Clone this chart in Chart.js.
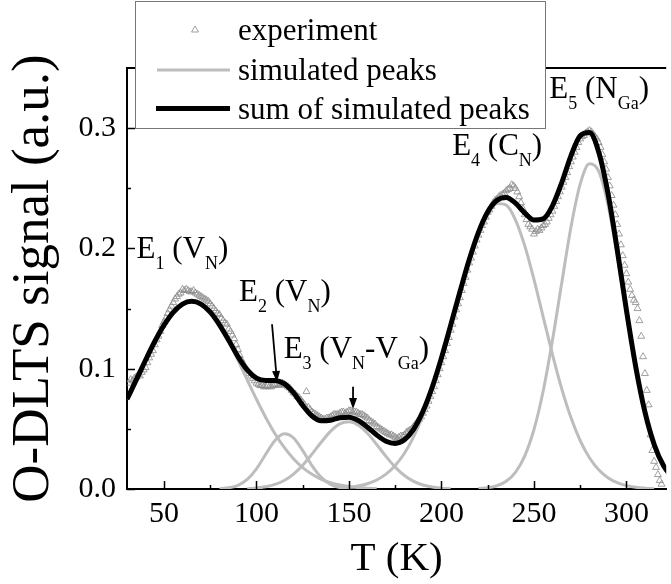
<!DOCTYPE html>
<html>
<head>
<meta charset="utf-8">
<title>O-DLTS spectrum</title>
<script src="https://cdn.jsdelivr.net/npm/chart.js@4.4.1/dist/chart.umd.min.js"></script>
<style>
  html, body { margin: 0; padding: 0; background: #fff; overflow: hidden; }
  #wrap { width: 671px; height: 584px; }
</style>
</head>
<body>
<div id="wrap"><canvas id="dlts" width="671" height="584"></canvas></div>
<script>
// temperature grid for the fitted curves (K)
var gridT = [30,35,40,45,50,55,60,65,70,75,80,85,90,95,100,105,110,115,120,125,130,135,140,145,150,155,160,165,170,175,
             180,185,190,195,200,205,210,215,220,225,230,235,240,245,250,255,260,265,270,275,280,285,290,295,300,305,310,315,320,325];

// simulated peaks on gridT, null where a peak has died out
var peakE1 = [0.0746,0.0907,0.1070,0.1226,0.1362,0.1469,0.1537,0.1560,0.1537,0.1469,0.1362,0.1226,0.1070,0.0907,0.0746,0.0595,0.0460,0.0346,0.0252,0.0178,
              0.0122,0.0081,0.0053,0.0033,0.0020,0.0012,0.0007,0.0004,null,null,null,null,null,null,null,null,null,null,null,null,
              null,null,null,null,null,null,null,null,null,null,null,null,null,null,null,null,null,null,null,null];
var peakE2 = [null,null,null,null,null,null,null,null,null,null,0.0003,0.0010,0.0031,0.0080,0.0168,0.0289,0.0404,0.0459,0.0425,0.0319,
              0.0195,0.0097,0.0039,0.0013,0.0003,null,null,null,null,null,null,null,null,null,null,null,null,null,null,null,
              null,null,null,null,null,null,null,null,null,null,null,null,null,null,null,null,null,null,null,null];
var peakE3 = [null,null,null,null,null,null,null,null,null,null,null,null,null,0.0003,0.0008,0.0018,0.0038,0.0071,0.0124,0.0198,
              0.0290,0.0389,0.0479,0.0541,0.0560,0.0531,0.0463,0.0370,0.0271,0.0182,0.0112,0.0063,0.0033,0.0016,0.0007,0.0003,null,null,null,null,
              null,null,null,null,null,null,null,null,null,null,null,null,null,null,null,null,null,null,null,null];
var peakE4 = [null,null,null,null,null,null,null,null,null,null,null,null,null,null,null,null,null,null,null,null,
              null,null,null,0.0006,0.0013,0.0025,0.0044,0.0075,0.0124,0.0196,0.0297,0.0435,0.0613,0.0830,0.1083,0.1359,0.1640,0.1906,0.2130,0.2292,
              0.2373,0.2360,0.2238,0.2023,0.1743,0.1431,0.1120,0.0835,0.0594,0.0402,0.0260,0.0160,0.0094,0.0052,0.0028,0.0014,0.0007,0.0003,null,null];
var peakE5 = [null,null,null,null,null,null,null,null,null,null,null,null,null,null,null,null,null,null,null,null,
              null,null,null,null,null,null,null,null,null,null,null,null,null,null,null,null,null,null,0.0004,0.0011,
              0.0027,0.0064,0.0139,0.0273,0.0493,0.0815,0.1234,0.1711,0.2176,0.2534,0.2703,0.2642,0.2366,0.1941,0.1459,0.1005,0.0634,0.0367,0.0194,0.0094];
var peakSum = [0.0746,0.0907,0.1070,0.1226,0.1362,0.1469,0.1537,0.1560,0.1537,0.1470,0.1365,0.1236,0.1101,0.0990,0.0922,0.0902,0.0902,0.0876,0.0801,0.0695,
               0.0607,0.0567,0.0571,0.0593,0.0596,0.0569,0.0514,0.0449,0.0397,0.0379,0.0409,0.0498,0.0646,0.0846,0.1090,0.1362,0.1640,0.1906,0.2134,0.2303,
               0.2400,0.2424,0.2377,0.2296,0.2236,0.2246,0.2354,0.2546,0.2770,0.2936,0.2963,0.2802,0.2460,0.1993,0.1487,0.1019,0.0641,0.0370,0.0195,0.0094];

// measured O-DLTS signal
var expT = [31,32,33,34,35,36,37,38,39,40,41,42,43,44,45,46,47,48,49,50,
            51,52,53,54,55,56,57,58,59,60,61,62,63,64,65,66,67,68,69,70,
            71,72,73,74,75,76,77,78,79,80,81,82,83,84,85,86,87,88,89,90,
            91,92,93,94,95,96,97,98,99,100,101,102,103,104,105,106,107,108,109,110,
            111,112,113,114,115,116,117,118,119,120,121,122,123,124,125,126,127,128,129,130,
            131,132,133,134,135,136,137,138,139,140,141,142,143,144,145,146,147,148,149,150,
            151,152,153,154,155,156,157,158,159,160,161,162,163,164,165,166,167,168,169,170,
            171,172,173,174,175,176,177,178,179,180,181,182,183,184,185,186,187,188,189,190,
            191,192,193,194,195,196,197,198,199,200,201,202,203,204,205,206,207,208,209,210,
            211,212,213,214,215,216,217,218,219,220,221,222,223,224,225,226,227,228,229,230,
            231,232,233,234,235,236,237,238,239,240,241,242,243,244,245,246,247,248,249,250,
            251,252,253,254,255,256,257,258,259,260,261,262,263,264,265,266,267,268,269,270,
            271,272,273,274,275,276,277,278,279,280,281,282,283,284,285,286,287,288,289,290,
            291,292,293,294,295,296,297,298,299,300,301,302,303,304,305,306,307,308,309,310,
            311,312,313,314,315,316,317,318,319];
var expSignal = [0.088,0.091,0.090,0.092,0.093,0.095,0.094,0.097,0.099,0.101,0.105,0.109,0.112,0.115,0.120,0.124,0.127,0.131,0.136,0.139,
                 0.142,0.146,0.149,0.152,0.155,0.158,0.160,0.162,0.163,0.166,0.165,0.166,0.165,0.164,0.164,0.165,0.163,0.162,0.161,0.160,
                 0.159,0.158,0.157,0.156,0.154,0.152,0.150,0.148,0.146,0.145,0.142,0.140,0.138,0.137,0.133,0.131,0.128,0.125,0.120,0.116,
                 0.111,0.107,0.104,0.101,0.099,0.096,0.094,0.092,0.090,0.088,0.087,0.086,0.086,0.085,0.085,0.086,0.085,0.085,0.086,0.087,
                 0.087,0.086,0.087,0.088,0.087,0.086,0.085,0.084,0.082,0.080,0.079,0.077,0.076,0.074,0.072,0.070,0.081,0.068,0.066,0.064,
                 0.063,0.062,0.061,0.060,0.059,0.058,0.058,0.059,0.059,0.060,0.061,0.062,0.062,0.062,0.063,0.064,0.064,0.063,0.064,0.065,
                 0.065,0.064,0.064,0.064,0.063,0.062,0.062,0.061,0.060,0.059,0.057,0.056,0.055,0.054,0.052,0.051,0.050,0.049,0.048,0.047,
                 0.046,0.045,0.045,0.044,0.043,0.042,0.043,0.044,0.044,0.045,0.047,0.048,0.049,0.050,0.052,0.054,0.056,0.058,0.060,0.063,
                 0.066,0.069,0.073,0.077,0.081,0.085,0.090,0.095,0.100,0.105,0.110,0.115,0.121,0.126,0.132,0.137,0.143,0.149,0.154,0.159,
                 0.165,0.171,0.176,0.182,0.188,0.192,0.197,0.202,0.207,0.211,0.215,0.219,0.222,0.226,0.230,0.232,0.235,0.238,0.240,0.241,
                 0.243,0.244,0.245,0.246,0.248,0.249,0.250,0.253,0.252,0.250,0.247,0.243,0.238,0.233,0.228,0.224,0.220,0.218,0.216,0.212,
                 0.214,0.216,0.215,0.217,0.219,0.220,0.222,0.225,0.228,0.231,0.235,0.239,0.243,0.247,0.251,0.255,0.259,0.263,0.268,0.272,
                 0.276,0.280,0.284,0.288,0.291,0.293,0.294,0.296,0.297,0.298,0.297,0.295,0.293,0.291,0.288,0.284,0.278,0.272,0.266,0.259,
                 0.252,0.244,0.236,0.228,0.220,0.212,0.203,0.194,0.186,0.179,0.172,0.166,0.161,0.157,0.155,0.150,0.140,0.127,0.110,0.096,
                 0.082,0.070,0.045,0.032,0.023,0.018,0.012,0.007,0.004];

var xTicks = [50,100,150,200,250,300];
var xMinorTicks = [75,125,175,225,275];
var yTicks = [0,0.1,0.2,0.3];
var yMinorTicks = [0.05,0.15,0.25];

var serif = "'Liberation Serif', 'Times New Roman', serif";
Chart.defaults.font.family = serif;
Chart.defaults.color = '#000';

function pairs(xs, ys) {
  return xs.map(function(x, i) { return {x: x, y: ys[i]}; }).filter(function(p) { return p.y !== null; });
}

// peak assignments: anchor is left edge / baseline in data units
var peakLabels = [
  {T: 35.2,  v: 0.192, parts: [['E'], ['1', 1], [' ('], ['V'], ['N', 1], [')']]},
  {T: 90.6,  v: 0.156, parts: [['E'], ['2', 1], [' ('], ['V'], ['N', 1], [')']]},
  {T: 114.7, v: 0.109, parts: [['E'], ['3', 1], [' ('], ['V'], ['N', 1], ['-V'], ['Ga', 1], [')']]},
  {T: 205.8, v: 0.278, parts: [['E'], ['4', 1], [' ('], ['C'], ['N', 1], [')']]},
  {T: 258.3, v: 0.325, parts: [['E'], ['5', 1], [' ('], ['N'], ['Ga', 1], [')']]}
];
var arrows = [
  {from: [108.4, 0.137], to: [111.1, 0.089]},
  {from: [152.2, 0.085], to: [152.2, 0.0665]}
];

var grey = '#bdbdbd';
var pointStyleExp = {pointStyle: 'triangle', radius: 4, rotation: 0, borderWidth: 0.8};

function richText(ctx, parts, x, y) {
  parts.forEach(function(p) {
    var sub = p[1];
    ctx.font = (sub ? 18 : 31) + 'px ' + serif;
    ctx.fillText(p[0], x, y + (sub ? 11 : 0));
    x += ctx.measureText(p[0]).width;
  });
}

function arrow(ctx, x1, y1, x2, y2) {
  var a = Math.atan2(y2 - y1, x2 - x1), len = 11, w = 4;
  var bx = x2 - Math.cos(a) * len, by = y2 - Math.sin(a) * len;
  ctx.beginPath();
  ctx.moveTo(x1, y1);
  ctx.lineTo(bx, by);
  ctx.lineWidth = 1.8;
  ctx.stroke();
  ctx.beginPath();
  ctx.moveTo(x2, y2);
  ctx.lineTo(bx - Math.sin(a) * w, by + Math.cos(a) * w);
  ctx.lineTo(bx + Math.sin(a) * w, by - Math.cos(a) * w);
  ctx.closePath();
  ctx.fill();
}

var decorations = {
  id: 'decorations',
  afterDraw: function(chart) {
    var ctx = chart.ctx, xs = chart.scales.x, ys = chart.scales.y, area = chart.chartArea;
    ctx.save();
    ctx.strokeStyle = '#000';
    ctx.fillStyle = '#000';

    // frame line on top
    ctx.lineWidth = 2;
    ctx.beginPath();
    ctx.moveTo(area.left, area.top);
    ctx.lineTo(area.right, area.top);
    ctx.stroke();

    // inward tick marks
    ctx.lineWidth = 1.5;
    ctx.beginPath();
    xTicks.concat(xMinorTicks).forEach(function(t) {
      var px = Math.round(xs.getPixelForValue(t)) + 0.5;
      var len = xTicks.indexOf(t) >= 0 ? 8 : 4;
      ctx.moveTo(px, area.bottom);
      ctx.lineTo(px, area.bottom - len);
    });
    yTicks.concat(yMinorTicks).forEach(function(t) {
      var py = Math.round(ys.getPixelForValue(t)) + 0.5;
      var len = yTicks.indexOf(t) >= 0 ? 8 : 4;
      ctx.moveTo(area.left, py);
      ctx.lineTo(area.left + len, py);
    });
    ctx.stroke();

    // peak labels and arrows
    ctx.textBaseline = 'alphabetic';
    ctx.textAlign = 'left';
    peakLabels.forEach(function(l) {
      richText(ctx, l.parts, xs.getPixelForValue(l.T), ys.getPixelForValue(l.v));
    });
    arrows.forEach(function(a) {
      arrow(ctx, xs.getPixelForValue(a.from[0]), ys.getPixelForValue(a.from[1]),
                 xs.getPixelForValue(a.to[0]), ys.getPixelForValue(a.to[1]));
    });

    // legend box
    ctx.fillStyle = '#fff';
    ctx.fillRect(135.5, 1.5, 410, 127);
    ctx.strokeStyle = '#777';
    ctx.lineWidth = 1;
    ctx.strokeRect(135.5, 1.5, 410, 127);

    ctx.strokeStyle = '#888';
    ctx.fillStyle = 'rgba(0,0,0,0)';
    ctx.lineWidth = pointStyleExp.borderWidth;
    Chart.helpers.drawPoint(ctx, pointStyleExp, 195, 30);

    ctx.lineCap = 'butt';
    ctx.strokeStyle = grey;
    ctx.lineWidth = 3;
    ctx.beginPath(); ctx.moveTo(157, 70); ctx.lineTo(230, 70); ctx.stroke();
    ctx.strokeStyle = '#000';
    ctx.lineWidth = 5;
    ctx.beginPath(); ctx.moveTo(156, 108.5); ctx.lineTo(230, 108.5); ctx.stroke();

    ctx.fillStyle = '#000';
    ctx.font = '31px ' + serif;
    ctx.fillText('experiment', 238, 40);
    ctx.fillText('simulated peaks', 238, 80);
    ctx.fillText('sum of simulated peaks', 238, 119);
    ctx.restore();
  }
};

function peakSet(values) {
  return {
    data: pairs(gridT, values),
    borderColor: grey,
    borderWidth: 3,
    pointRadius: 0,
    fill: false,
    cubicInterpolationMode: 'monotone'
  };
}

new Chart(document.getElementById('dlts'), {
  type: 'line',
  data: {
    datasets: [
      {
        label: 'sum of simulated peaks',
        data: pairs(gridT, peakSum),
        borderColor: '#000',
        borderWidth: 5,
        pointRadius: 0,
        fill: false,
        cubicInterpolationMode: 'monotone'
      },
      peakSet(peakE1),
      peakSet(peakE2),
      peakSet(peakE3),
      peakSet(peakE4),
      peakSet(peakE5),
      {
        label: 'experiment',
        data: pairs(expT, expSignal),
        showLine: false,
        pointStyle: 'triangle',
        pointRadius: 4,
        pointBorderWidth: 0.8,
        pointBorderColor: '#888',
        pointBackgroundColor: 'rgba(255,255,255,0)'
      }
    ]
  },
  options: {
    responsive: false,
    animation: false,
    events: [],
    layout: { padding: { top: 68, left: 0, right: 0, bottom: 0 } },
    plugins: { legend: { display: false }, tooltip: { enabled: false } },
    scales: {
      x: {
        type: 'linear', min: 30, max: 321.5, z: 1,
        afterFit: function(s) { s.height = 95; },
        afterBuildTicks: function(s) { s.ticks = xTicks.map(function(v) { return {value: v}; }); },
        grid: { display: false, drawTicks: false },
        border: { display: true, color: '#000', width: 2 },
        ticks: { color: '#000', font: { family: serif, size: 30 }, padding: 7, maxRotation: 0, autoSkip: false },
        title: { display: true, text: 'T (K)', color: '#000', font: { family: serif, size: 41 }, padding: 0 }
      },
      y: {
        min: 0, max: 0.35, z: 1,
        afterFit: function(s) { s.width = 127; },
        afterBuildTicks: function(s) { s.ticks = yTicks.map(function(v) { return {value: v}; }); },
        grid: { display: false, drawTicks: false },
        border: { display: true, color: '#000', width: 2 },
        ticks: { color: '#000', font: { family: serif, size: 30 }, padding: 11,
                 callback: function(v) { return v.toFixed(1); } },
        title: { display: true, text: 'O-DLTS signal (a.u.)', color: '#000', font: { family: serif, size: 53 },
                 padding: { top: 2, bottom: 0 } }
      }
    }
  },
  plugins: [decorations]
});
</script>
</body>
</html>
